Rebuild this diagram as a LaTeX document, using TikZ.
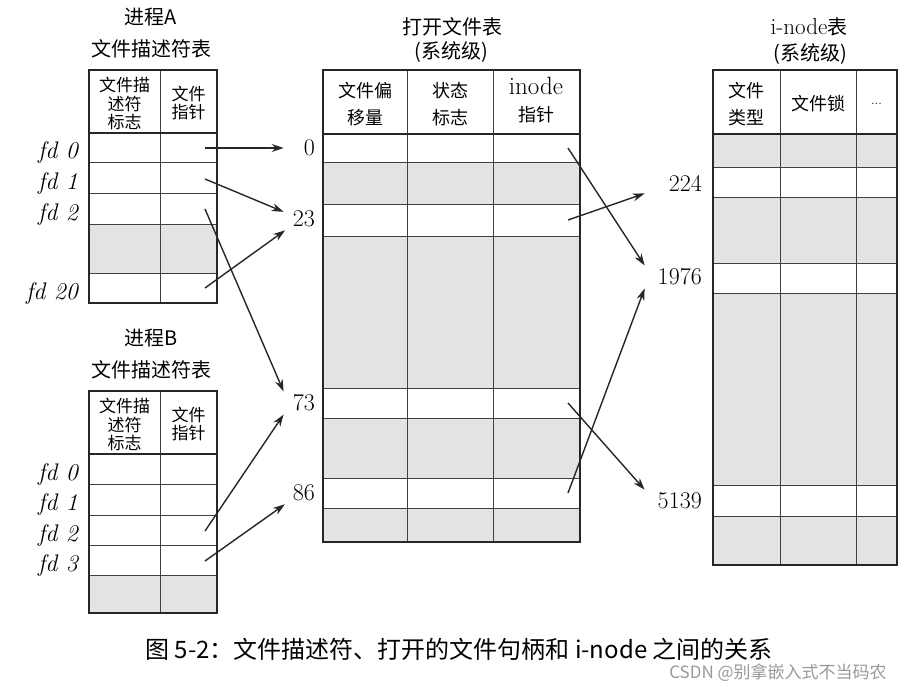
\documentclass[tikz,border=0pt]{standalone}
\usepackage{fontspec}
\newfontfamily\cjk{Noto Sans CJK SC}
\usetikzlibrary{arrows.meta}
\tikzset{
  frame/.style={draw=black!85, line width=2pt},
  rule/.style={draw=black!75, line width=1pt},
  headrule/.style={draw=black!85, line width=1.8pt},
  shade/.style={fill=black!11},
  ptr/.style={draw=black!85, line width=1.4pt, -{Stealth[length=12pt,width=8pt]}},
  title/.style={font=\cjk\fontsize{20}{24}\selectfont, inner sep=0pt},
  head/.style={font=\cjk\fontsize{17}{18.5}\selectfont, align=center, inner sep=0pt},
  widehead/.style={head, font=\cjk\fontsize{18}{27}\selectfont},
  lnum/.style={font=\fontsize{24}{24}\selectfont, text width=28pt, align=right, inner sep=3pt, anchor=east},
  rnum/.style={lnum, text width=54pt},
  fdname/.style={font=\fontsize{24}{24}\selectfont\itshape, inner sep=0pt, anchor=base east},
}
\begin{document}
\begin{tikzpicture}[x=1pt, y=-1pt]
\useasboundingbox (0,0) rectangle (907,687);

\begin{scope}
\node[title] (tA1) at (151,17) {进程A};
\node[title] (tA2) at (151,49) {文件描述符表};
\fill[shade] (89,224) rectangle (217,273);
\foreach \y in {163,194,224,273} \draw[rule] (89,\y) -- (217,\y);
\draw[rule] (160,70) -- (160,303);
\draw[headrule] (89,133) -- (217,133);
\draw[frame] (89,70) rectangle (217,303);
\node[head] (hA1) at (124.5,103.5) {文件描\\述符\\标志};
\node[head] (hA2) at (188.5,103) {文件\\指针};
\foreach \n/\y in {0/148,1/178.5,2/209,20/288} \node[fdname] (fdA\n) at (78,\y+11) {fd \n};
\coordinate (pA0) at (205,148);
\coordinate (pA1) at (205,179);
\coordinate (pA2) at (205,209);
\coordinate (pA20) at (205,288);
\end{scope}

\begin{scope}
\node[title] (tB1) at (151,338) {进程B};
\node[title] (tB2) at (151,370) {文件描述符表};
\fill[shade] (89,575) rectangle (217,613);
\foreach \y in {484,515,545,575} \draw[rule] (89,\y) -- (217,\y);
\draw[rule] (160,391) -- (160,613);
\draw[headrule] (89,454) -- (217,454);
\draw[frame] (89,391) rectangle (217,613);
\node[head] (hB1) at (124.5,424.5) {文件描\\述符\\标志};
\node[head] (hB2) at (188.5,424) {文件\\指针};
\foreach \n/\y in {0/469,1/499.5,2/530,3/560} \node[fdname] (fdB\n) at (78,\y+11) {fd \n};
\coordinate (pB2) at (205,531);
\coordinate (pB3) at (205,561);
\end{scope}

\begin{scope}
\node[title] (tF1) at (452,27) {打开文件表};
\node[title] (tF2) at (451,52) {(系统级)};
\fill[shade] (323,163) rectangle (580,205);
\fill[shade] (323,236) rectangle (580,388);
\fill[shade] (323,418) rectangle (580,478);
\fill[shade] (323,508) rectangle (580,542);
\foreach \y in {163,205,236,388,418,478,508} \draw[rule] (323,\y) -- (580,\y);
\draw[rule] (407,70) -- (407,542);
\draw[rule] (493,70) -- (493,542);
\draw[headrule] (323,134) -- (580,134);
\draw[frame] (323,70) rectangle (580,542);
\node[widehead] (hF1) at (365,104.5) {文件偏\\移量};
\node[widehead] (hF2) at (450,104.5) {状态\\标志};
\node[widehead] (hF3) at (536,100) {{\rmfamily\fontsize{25}{25}\selectfont inode}\\指针};
\coordinate (pF0) at (568,148);
\coordinate (pF23) at (568,220);
\coordinate (pF73) at (568,403);
\coordinate (pF86) at (568,493);
\end{scope}

\begin{scope}
\node[title] (tI1) at (809,27) {{\rmfamily\fontsize{23}{23}\selectfont i-node}表};
\node[title] (tI2) at (810,54) {(系统级)};
\fill[shade] (713,134) rectangle (897,168);
\fill[shade] (713,198) rectangle (897,263);
\fill[shade] (713,293) rectangle (897,485);
\fill[shade] (713,516) rectangle (897,565);
\foreach \y in {168,198,263,293,485,516} \draw[rule] (713,\y) -- (897,\y);
\draw[rule] (780,70) -- (780,565);
\draw[rule] (856,70) -- (856,565);
\draw[headrule] (713,134) -- (897,134);
\draw[frame] (713,70) rectangle (897,565);
\node[widehead] (hI1) at (746.5,104) {文件\\类型};
\node[widehead] (hI2) at (818,104) {文件锁};
\node[widehead, font=\fontsize{13}{13}\selectfont] (hI3) at (876.5,104) {...};
\end{scope}

\node[lnum] (o0) at (318,148) {0};
\node[lnum] (o23) at (318,219) {23};
\node[lnum] (o73) at (318,403) {73};
\node[lnum] (o86) at (318,493) {86};
\node[rnum] (i224) at (705,183) {224};
\node[rnum] (i1976) at (705,277) {1976};
\node[rnum] (i5139) at (705,501) {5139};

\draw[ptr] (pA0) -- (o0);
\draw[ptr] (pA1) -- (o23);
\draw[ptr] (pA2) -- (o73.north west);
\draw[ptr] (pA20) -- (o23);
\draw[ptr] (pB2) -- (o73.south west);
\draw[ptr] (pB3) -- (o86);
\draw[ptr] (pF0) -- (i1976.north west);
\draw[ptr] (pF23) -- (i224);
\draw[ptr] (pF73) -- (i5139.north west);
\draw[ptr] (pF86) -- (i1976.south west);

\node[font=\cjk\fontsize{24}{24}\selectfont, inner sep=0pt] (cap) at (459,649) {图 5-2：文件描述符、打开的文件句柄和 i-node 之间的关系};
\node[font=\cjk\fontsize{17}{17}\selectfont, text=black!40, inner sep=0pt] (mark) at (778,673) {CSDN @别拿嵌入式不当码农};
\end{tikzpicture}
\end{document}
